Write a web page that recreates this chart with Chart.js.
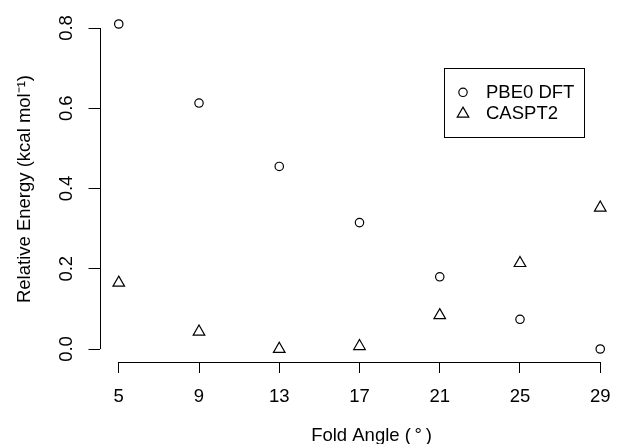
<!DOCTYPE html>
<html>
<head>
<meta charset="utf-8">
<script src="https://cdn.jsdelivr.net/npm/chart.js@4.4.1/dist/chart.umd.min.js"></script>
<style>
  html, body { margin: 0; padding: 0; background: #fff; }
  #wrap { width: 621px; height: 444px; }
</style>
</head>
<body>
<div id="wrap"><canvas id="c" width="621" height="444"></canvas></div>
<script>
// ---- data ----
const foldAngles = [5, 9, 13, 17, 21, 25, 29];
const pbe0Dft = [0.81, 0.613, 0.455, 0.315, 0.18, 0.074, 0.0];
const caspt2 = [0.165, 0.043, 0.0, 0.007, 0.084, 0.214, 0.352];
const xTickValues = [5, 9, 13, 17, 21, 25, 29];
const yTickValues = [0.0, 0.2, 0.4, 0.6, 0.8];
const seriesNames = ['PBE0 DFT', 'CASPT2'];
const xTitle = 'Fold Angle (\u2009°\u2009)';
const yTitle = 'Relative Energy (kcal mol⁻¹)';

const FONT = '"Liberation Sans", Arial, Helvetica, sans-serif';
const FS = 18.5;
Chart.defaults.color = '#000';
Chart.defaults.font.family = FONT;
Chart.defaults.font.size = FS;

const toPts = (xs, ys) => xs.map((x, i) => ({ x: x, y: ys[i] }));

function drawMarker(ctx, style, cx, cy, r) {
  ctx.beginPath();
  if (style === 'circle') {
    ctx.arc(cx, cy, r, 0, Math.PI * 2);
  } else {
    let rad = 0;
    ctx.moveTo(cx + Math.sin(rad) * r, cy - Math.cos(rad) * r);
    rad += 2 * Math.PI / 3;
    ctx.lineTo(cx + Math.sin(rad) * r, cy - Math.cos(rad) * r);
    rad += 2 * Math.PI / 3;
    ctx.lineTo(cx + Math.sin(rad) * r, cy - Math.cos(rad) * r);
    ctx.closePath();
  }
  ctx.stroke();
}

const extras = {
  id: 'extras',
  afterDraw(chart) {
    const ctx = chart.ctx, xs = chart.scales.x, ys = chart.scales.y, a = chart.chartArea;
    ctx.save();
    ctx.strokeStyle = '#000';
    ctx.fillStyle = '#000';
    ctx.lineWidth = 1;
    // axis lines spanning first to last tick (R style)
    ctx.beginPath();
    const yb = Math.round(a.bottom) + 0.5;
    ctx.moveTo(xs.getPixelForValue(xTickValues[0]), yb);
    ctx.lineTo(xs.getPixelForValue(xTickValues[xTickValues.length - 1]), yb);
    const xl = Math.round(a.left) + 0.5;
    ctx.moveTo(xl, ys.getPixelForValue(yTickValues[0]));
    ctx.lineTo(xl, ys.getPixelForValue(yTickValues[yTickValues.length - 1]));
    ctx.stroke();

    // axis titles
    ctx.font = FS + 'px ' + FONT;
    ctx.textAlign = 'center';
    ctx.textBaseline = 'alphabetic';
    ctx.fillText(xTitle, 371.5, 440.5);
    ctx.save();
    ctx.translate(29.5, 189);
    ctx.rotate(-Math.PI / 2);
    ctx.fillText(yTitle, 0, 0);
    ctx.restore();

    // legend
    const bx = 444.5, by = 68.5, bw = 140, bh = 69;
    ctx.lineWidth = 1;
    ctx.strokeRect(bx, by, bw, bh);
    ctx.textBaseline = 'middle';
    ctx.textAlign = 'left';
    const rows = [92.3, 113.8];
    chart.data.datasets.forEach((ds, i) => {
      const cy = rows[i];
      ctx.lineWidth = ds.borderWidth;
      drawMarker(ctx, ds.pointStyle, 463, cy, ds.pointRadius);
      ctx.fillText(ds.label, 486, cy + 0.5);
    });
    ctx.restore();
  }
};

const noPad = (s) => { s.paddingLeft = 0; s.paddingRight = 0; s.paddingTop = 0; s.paddingBottom = 0; };

new Chart(document.getElementById('c'), {
  type: 'scatter',
  data: {
    datasets: [
      {
        label: seriesNames[0],
        data: toPts(foldAngles, pbe0Dft),
        pointStyle: 'circle',
        pointRadius: 4.2,
        borderColor: '#000',
        backgroundColor: 'rgba(0,0,0,0)',
        borderWidth: 1.2
      },
      {
        label: seriesNames[1],
        data: toPts(foldAngles, caspt2),
        pointStyle: 'triangle',
        pointRadius: 6.7,
        borderColor: '#000',
        backgroundColor: 'rgba(0,0,0,0)',
        borderWidth: 1.2
      }
    ]
  },
  options: {
    responsive: false,
    animation: false,
    events: [],
    layout: { autoPadding: false, padding: { top: 11, right: 1.5, left: 0, bottom: 0 } },
    plugins: { legend: { display: false }, tooltip: { enabled: false } },
    scales: {
      x: {
        type: 'linear',
        min: 4.04,
        max: 29.96,
        afterBuildTicks: (s) => { s.ticks = xTickValues.map(v => ({ value: v })); },
        afterFit: (s) => { s.height = 82; noPad(s); },
        grid: { display: true, drawOnChartArea: false, drawTicks: true, tickLength: 11, color: '#000', lineWidth: 1 },
        border: { display: false },
        ticks: { padding: 13, maxRotation: 0, minRotation: 0, autoSkip: false, callback: (v) => String(v), font: { size: FS } },
        title: { display: false }
      },
      y: {
        type: 'linear',
        min: -0.0324,
        max: 0.8424,
        afterBuildTicks: (s) => { s.ticks = yTickValues.map(v => ({ value: v })); },
        afterFit: (s) => { s.width = 99.5; noPad(s); },
        grid: { display: true, drawOnChartArea: false, drawTicks: true, tickLength: 11, color: '#000', lineWidth: 1 },
        border: { display: false },
        ticks: { padding: 9, minRotation: 90, maxRotation: 90, crossAlign: 'center', autoSkip: false,
                 callback: (v) => Number(v).toFixed(1), font: { size: FS } },
        title: { display: false }
      }
    }
  },
  plugins: [extras]
});
</script>
</body>
</html>
